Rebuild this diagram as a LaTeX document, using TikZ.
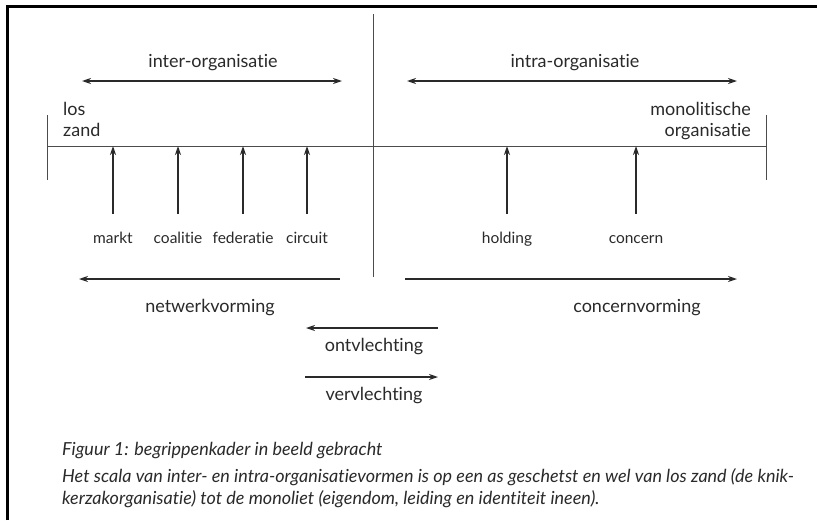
\documentclass[tikz,border=0pt]{standalone}
\usepackage{fontspec}
\setmainfont{Lato}[RawFeature=-liga]
\usetikzlibrary{arrows.meta}
\definecolor{ink}{HTML}{2A2A2A}
\begin{document}
\begin{tikzpicture}[x=1pt,y=-1pt,
  lbl/.style={inner sep=0pt,text=ink,anchor=base,font=\fontsize{18}{21}\selectfont},
  sml/.style={inner sep=0pt,text=ink,anchor=base,font=\fontsize{15.5}{18}\selectfont},
  captxt/.style={inner sep=0pt,text=ink,anchor=base west,font=\fontsize{18}{21}\selectfont\itshape},
  axis/.style={draw=black!70,line width=0.8pt},
  arr/.style={draw=ink,line width=1.8pt,-{Stealth[length=9pt,width=6pt]}},
  darr/.style={draw=ink,line width=1.8pt,{Stealth[length=9pt,width=6pt]}-{Stealth[length=9pt,width=6pt]}}]
\useasboundingbox (0,0) rectangle (817,520);
\fill[white] (0,0) rectangle (817,520);
% frame
\draw[black,line width=3pt] (7,520) -- (7,6) -- (817,6);
% centre divider
\coordinate (dTop) at (373,14);
\coordinate (dBot) at (373,277);
\draw[axis] (dTop) -- (dBot);
% axis
\coordinate (aL) at (47,146);
\coordinate (aR) at (766,146);
\draw[axis] (aL) -- (aR);
\draw[axis] (47,115) -- (47,180);
\draw[axis] (766,115) -- (766,180);
% top double arrows
\coordinate (iL) at (82,81); \coordinate (iR) at (342,81);
\coordinate (jL) at (407,81); \coordinate (jR) at (737,81);
\draw[darr] (iL) -- (iR);
\draw[darr] (jL) -- (jR);
\node[lbl] (inter) at (213,67) {inter-organisatie};
\node[lbl] (intra) at (575,67) {intra-organisatie};
% ends
\node[lbl,anchor=base west] (los) at (63,115) {los};
\node[lbl,anchor=base west] (zand) at (63,136) {zand};
\node[lbl,anchor=base east] (mono) at (751,115) {monolitische};
\node[lbl,anchor=base east] (org) at (751,136) {organisatie};
% form labels and up arrows
\foreach \n/\x/\t in {markt/113/markt,coal/178/coalitie,fed/243/federatie,circ/307/circuit,hold/507/holding,conc/636/concern}{
  \node[sml] (\n) at (\x,243) {\t};
  \coordinate (\n T) at (\x,146);
  \coordinate (\n B) at (\x,214);
  \draw[arr] (\n B) -- (\n T);
}
% bottom arrows
\coordinate (nwR) at (340,279); \coordinate (nwL) at (79,279);
\coordinate (cvL) at (405,279); \coordinate (cvR) at (737,279);
\draw[arr] (nwR) -- (nwL);
\draw[arr] (cvL) -- (cvR);
\node[lbl] (netw) at (210,312) {netwerkvorming};
\node[lbl] (concv) at (637,312) {concernvorming};
\coordinate (oR) at (438,328); \coordinate (oL) at (306,328);
\draw[arr] (oR) -- (oL);
\node[lbl] (ontv) at (374,351) {ontvlechting};
\coordinate (vL) at (305,377); \coordinate (vR) at (438,377);
\draw[arr] (vL) -- (vR);
\node[lbl] (verv) at (374,400) {vervlechting};
% caption
\node[captxt] (fig) at (62,455) {Figuur 1: begrippenkader in beeld gebracht};
\node[captxt] (c1) at (62,482) {Het scala van inter- en intra-organisatievormen is op een as geschetst en wel van los zand (de knik-};
\node[captxt] (c2) at (62,504) {kerzakorganisatie) tot de monoliet (eigendom, leiding en identiteit ineen).};
\end{tikzpicture}
\end{document}
